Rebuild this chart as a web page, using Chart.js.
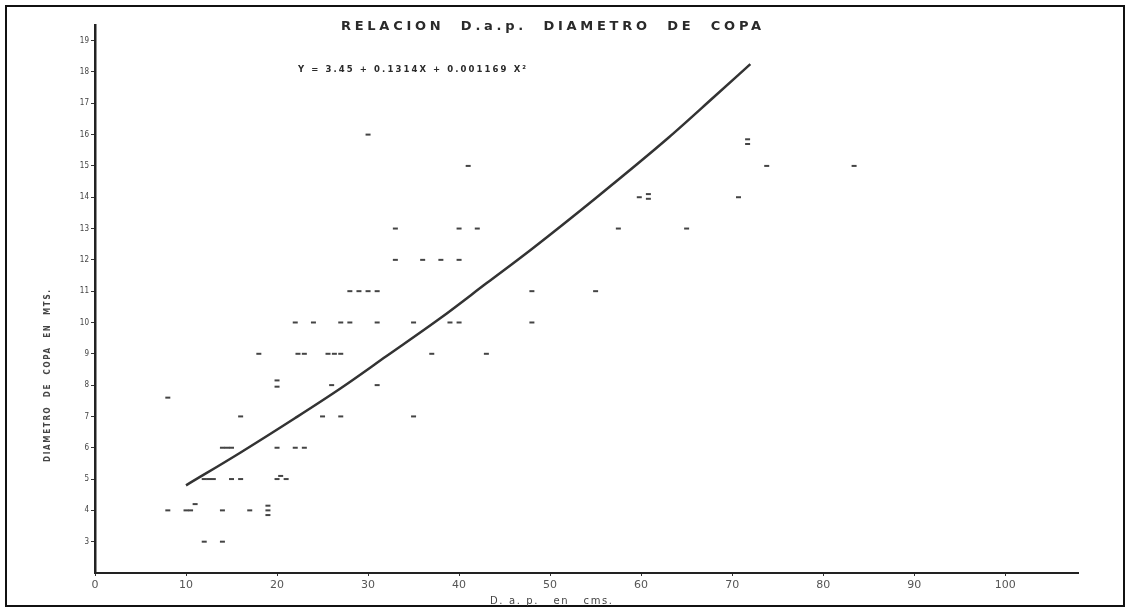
<!DOCTYPE html>
<html>
<head>
<meta charset="utf-8">
<script src="https://cdn.jsdelivr.net/npm/chart.js@4/dist/chart.umd.min.js"></script>
<style>
  html, body { margin: 0; padding: 0; background: #fff; }
  canvas { display: block; }
</style>
</head>
<body>
<canvas id="chart" width="1130" height="607"></canvas>
<script>
// D.a.p. (cm) and crown diameter (m)
const dapValues = [8, 10, 10.5, 11, 14, 17, 19, 19, 19, 12, 14,
  12, 12.5, 13, 15, 16, 20, 20.4, 21,
  14, 14.5, 15, 20, 22, 23,
  16, 25, 27, 35,
  20, 20, 26, 31,
  18, 22.3, 23, 25.6, 26.3, 27, 37, 43,
  22, 24, 27, 28, 31, 35, 39, 40, 48,
  28, 29, 30, 31, 48, 55,
  33, 36, 38, 40,
  33, 40, 42, 57.5, 65,
  59.8, 60.8, 60.8, 70.7,
  71.7, 71.7, 73.8, 83.4, 41,
  30, 8];
const copaValues = [4, 4, 4, 4.2, 4, 4, 3.85, 4, 4.15, 3, 3,
  5, 5, 5, 5, 5, 5, 5.1, 5,
  6, 6, 6, 6, 6, 6,
  7, 7, 7, 7,
  7.95, 8.15, 8, 8,
  9, 9, 9, 9, 9, 9, 9, 9,
  10, 10, 10, 10, 10, 10, 10, 10, 10,
  11, 11, 11, 11, 11, 11,
  12, 12, 12, 12,
  13, 13, 13, 13, 13,
  14, 14.1, 13.95, 14,
  15.85, 15.7, 15, 15, 15,
  16, 7.6];

// fitted curve as drawn on the plot
const curveDap = [10, 16, 22, 27, 32, 38, 43, 48, 55, 63, 68, 72];
const curveCopa = [4.8, 5.85, 6.95, 7.9, 8.92, 10.15, 11.25, 12.35, 13.97, 15.9, 17.2, 18.25];

const xTickValues = [0, 10, 20, 30, 40, 50, 60, 70, 80, 90, 100];
const yTickValues = [3, 4, 5, 6, 7, 8, 9, 10, 11, 12, 13, 14, 15, 16, 17, 18, 19];

const titleText = 'RELACION  D.a.p.  DIAMETRO  DE  COPA';
const equationText = 'Y = 3.45 + 0.1314X + 0.001169 X²';
const yTitleText = 'DIAMETRO  DE  COPA  EN  MTS.';
const xTitleText = 'D. a. p.   en   cms.';

const ink = '#2a2a2a';

// draw text stretched to a given width with letter spacing
function spacedText(ctx, text, cx, cy, width) {
  ctx.letterSpacing = '0px';
  const w = ctx.measureText(text).width;
  const sp = Math.max(0, (width - w) / (text.length - 1));
  ctx.letterSpacing = sp + 'px';
  ctx.fillText(text, cx + sp / 2, cy);
  ctx.letterSpacing = '0px';
}

const decor = {
  id: 'decor',
  afterDraw(chart) {
    const ctx = chart.ctx;
    ctx.save();
    // frame of the scanned page
    ctx.strokeStyle = '#111';
    ctx.lineWidth = 2;
    ctx.strokeRect(6, 6, 1118, 600);

    ctx.fillStyle = ink;
    ctx.textAlign = 'center';
    ctx.textBaseline = 'middle';

    ctx.font = 'bold 13px "DejaVu Sans"';
    spacedText(ctx, titleText, 551, 27, 420);

    ctx.font = 'bold 8.5px "DejaVu Sans"';
    spacedText(ctx, equationText, 412, 70, 228);

    ctx.font = '10px "DejaVu Sans"';
    ctx.fillStyle = '#444';
    spacedText(ctx, xTitleText, 551, 601, 122);

    ctx.save();
    ctx.translate(48, 376);
    ctx.rotate(-Math.PI / 2);
    ctx.font = 'bold 8px "DejaVu Sans Condensed"';
    spacedText(ctx, yTitleText, 0, 0, 172);
    ctx.restore();

    ctx.restore();
  }
};

const points = dapValues.map((x, i) => ({ x: x, y: copaValues[i] }));
const curve = curveDap.map((x, i) => ({ x: x, y: curveCopa[i] }));

const ctx = document.getElementById('chart').getContext('2d');
const chart = new Chart(ctx, {
  type: 'scatter',
  data: {
    datasets: [
      {
        label: 'Curva',
        data: curve,
        showLine: true,
        borderColor: '#333',
        borderWidth: 2.5,
        pointRadius: 0,
        cubicInterpolationMode: 'monotone'
      },
      {
        label: 'Observaciones',
        data: points,
        pointStyle: 'line',
        pointRadius: 2.5,
        borderColor: '#444',
        borderWidth: 2
      }
    ]
  },
  options: {
    responsive: false,
    animation: false,
    layout: { padding: { top: 25, right: 52, left: 0, bottom: 0 } },
    plugins: {
      legend: { display: false },
      tooltip: { enabled: false }
    },
    scales: {
      x: {
        type: 'linear',
        min: 0,
        max: 108,
        afterBuildTicks: axis => { axis.ticks = xTickValues.map(v => ({ value: v })); },
        afterFit: scale => { scale.height = 34; },
        border: { display: true, color: '#222', width: 2 },
        grid: { drawOnChartArea: false, drawTicks: true, tickLength: 3, color: '#333' },
        ticks: { autoSkip: false, maxRotation: 0, color: '#555', padding: 3, font: { family: 'DejaVu Sans', size: 11 } }
      },
      y: {
        type: 'linear',
        min: 2,
        max: 19.5,
        afterBuildTicks: axis => { axis.ticks = yTickValues.map(v => ({ value: v })); },
        afterFit: scale => { scale.width = 95; },
        border: { display: true, color: '#222', width: 2.5 },
        grid: { drawOnChartArea: false, drawTicks: true, tickLength: 4, color: '#333' },
        ticks: { autoSkip: false, color: '#444', padding: 2, font: { family: 'DejaVu Sans Condensed', size: 8 } }
      }
    }
  },
  plugins: [decor]
});
</script>
</body>
</html>
